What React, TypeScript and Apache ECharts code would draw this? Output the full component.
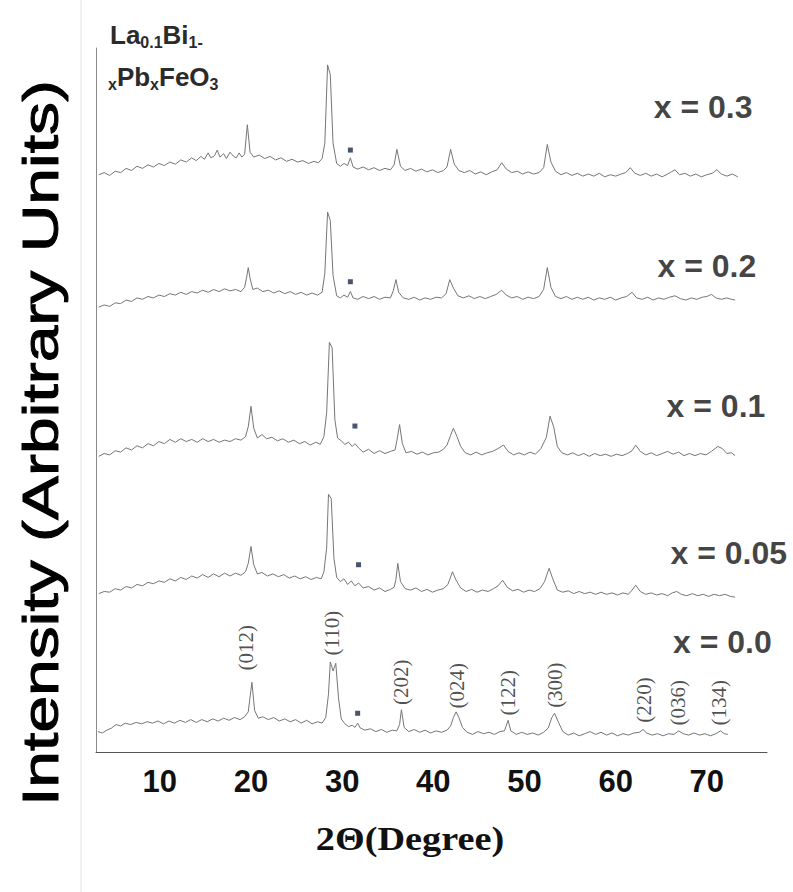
import React, { useEffect, useRef } from "react";
import * as echarts from "echarts";

// Sample compositions (top to bottom)
const sampleNames = ["x = 0.3", "x = 0.2", "x = 0.1", "x = 0.05", "x = 0.0"];
// Vertical offsets of each pattern (arbitrary units)
const offsets = [82.0, 64.5, 42.2, 23.0, 2.7];

// Patterns: [2θ (deg), intensity above own baseline (a.u.)]
const t03 = [
  [3.3,0.0],[3.9,0.3],[4.5,-0.1],[5.1,0.5],[5.7,0.3],[6.3,0.9],[6.9,0.6],[7.5,1.2],[8.1,0.9],[8.7,1.4],[9.3,1.1],[9.9,1.6],[10.5,1.3],[11.1,1.8],[11.7,1.5],[12.3,2.1],[12.9,1.8],[13.5,2.4],[14.0,2.0],[14.5,2.6],[14.9,2.2],[15.3,3.1],[15.6,2.4],[16.0,2.7],[16.3,3.5],[16.6,2.5],[17.0,3.0],[17.3,2.3],[17.7,3.2],[18.1,2.6],[18.4,2.4],[18.7,3.1],[19.0,2.5],[19.3,2.9],[19.6,7.1],[19.9,3.2],[20.3,2.5],[20.9,2.8],[21.5,2.3],[22.1,2.6],[22.7,2.1],[23.3,2.4],[23.9,1.9],[24.5,2.2],[25.1,1.8],[25.7,2.0],[26.3,1.6],[26.9,1.9],[27.4,1.7],[27.8,2.3],[28.1,4.5],[28.4,15.6],[28.7,14.2],[29.0,4.5],[29.4,1.6],[29.8,1.2],[30.2,1.6],[30.6,1.3],[30.9,2.4],[31.2,1.1],[31.7,0.8],[32.3,1.1],[32.9,0.7],[33.5,1.0],[34.1,0.6],[34.7,0.9],[35.3,0.7],[35.7,1.4],[36.0,3.6],[36.4,1.2],[36.9,0.6],[37.5,0.9],[38.1,0.5],[38.7,0.8],[39.3,0.4],[39.9,0.7],[40.5,0.3],[41.1,0.6],[41.5,1.1],[41.9,3.6],[42.3,1.5],[42.8,0.6],[43.4,0.3],[44.0,0.6],[44.6,0.1],[45.2,0.4],[45.8,0.0],[46.4,0.4],[47.0,0.7],[47.5,1.7],[48.0,0.8],[48.6,0.3],[49.2,0.5],[49.8,0.1],[50.4,0.4],[51.0,0.1],[51.6,0.3],[52.1,1.0],[52.5,4.3],[52.9,1.8],[53.4,0.5],[54.0,0.0],[54.6,0.3],[55.2,-0.1],[55.8,0.2],[56.4,-0.2],[57.0,0.1],[57.6,-0.2],[58.2,0.2],[58.8,-0.3],[59.4,0.0],[60.0,-0.2],[60.6,0.1],[61.1,0.3],[61.6,1.0],[62.1,0.2],[62.7,-0.1],[63.3,0.2],[63.9,-0.2],[64.5,0.1],[65.1,-0.3],[65.7,0.1],[66.1,0.4],[66.5,0.7],[67.0,0.0],[67.6,0.2],[68.2,-0.2],[68.8,0.1],[69.4,-0.3],[70.0,0.0],[70.6,0.2],[71.1,0.7],[71.6,0.1],[72.2,-0.2],[72.8,0.1],[73.4,-0.3]
];
const t02 = [
  [3.3,-1.3],[3.9,-1.0],[4.5,-1.2],[5.1,-0.7],[5.7,-0.8],[6.3,-0.3],[6.9,-0.5],[7.5,0.0],[8.1,-0.2],[8.7,0.2],[9.3,0.0],[9.9,0.4],[10.5,0.2],[11.1,0.6],[11.7,0.4],[12.3,0.8],[12.9,0.5],[13.5,0.9],[14.1,0.7],[14.7,1.1],[15.3,0.8],[15.9,1.2],[16.5,0.9],[17.1,1.3],[17.7,1.0],[18.3,1.2],[18.9,0.9],[19.3,1.5],[19.5,2.8],[19.7,4.3],[19.9,2.8],[20.2,1.2],[20.7,1.4],[21.3,0.9],[21.9,1.1],[22.5,0.7],[23.1,1.0],[23.7,0.6],[24.3,0.9],[24.9,0.5],[25.5,0.8],[26.1,0.4],[26.7,0.7],[27.3,0.4],[27.8,0.8],[28.1,3.5],[28.4,12.2],[28.7,11.0],[29.0,3.2],[29.4,0.3],[29.8,0.0],[30.2,0.4],[30.6,0.1],[30.9,0.9],[31.2,0.0],[31.7,-0.2],[32.3,0.2],[32.9,-0.1],[33.5,0.2],[34.1,-0.2],[34.7,0.1],[35.3,0.0],[35.6,1.0],[35.9,2.6],[36.2,0.8],[36.7,0.0],[37.3,-0.2],[37.9,0.1],[38.5,-0.3],[39.1,0.0],[39.7,-0.2],[40.3,0.1],[40.9,0.0],[41.4,0.6],[41.8,2.6],[42.2,1.4],[42.7,0.3],[43.3,0.0],[43.9,0.3],[44.5,-0.1],[45.1,0.2],[45.7,-0.1],[46.3,0.2],[46.9,0.5],[47.5,1.1],[48.0,0.4],[48.6,0.0],[49.2,0.2],[49.8,-0.2],[50.4,0.1],[51.0,-0.1],[51.6,0.2],[52.1,1.2],[52.5,4.3],[52.9,1.5],[53.4,0.2],[54.0,-0.1],[54.6,0.2],[55.2,-0.2],[55.8,0.1],[56.4,-0.2],[57.0,0.1],[57.6,-0.3],[58.2,0.0],[58.8,-0.2],[59.4,0.1],[60.0,-0.3],[60.6,0.0],[61.2,0.2],[61.8,0.8],[62.3,0.0],[62.9,-0.2],[63.5,0.1],[64.1,-0.3],[64.7,0.0],[65.3,-0.2],[65.9,0.1],[66.5,0.3],[67.1,-0.1],[67.7,-0.3],[68.3,0.0],[68.9,-0.2],[69.5,0.1],[70.0,0.2],[70.5,0.5],[71.0,0.0],[71.6,-0.2],[72.2,0.0],[72.7,-0.2],[73.1,-0.3]
];
const t01 = [
  [3.3,-0.2],[3.9,0.2],[4.5,0.0],[5.1,0.6],[5.7,0.4],[6.3,1.0],[6.9,0.7],[7.5,1.3],[8.1,1.0],[8.7,1.6],[9.3,1.3],[9.9,1.9],[10.5,1.6],[11.1,2.2],[11.7,1.8],[12.3,2.3],[12.9,1.9],[13.5,2.2],[14.1,1.8],[14.7,2.3],[15.3,1.9],[15.9,2.2],[16.5,1.8],[17.1,2.1],[17.7,1.9],[18.3,2.3],[18.9,2.1],[19.4,2.6],[19.7,4.0],[20.0,6.9],[20.3,3.8],[20.7,2.4],[21.2,2.9],[21.7,2.3],[22.3,2.5],[22.9,2.0],[23.5,2.3],[24.1,1.8],[24.7,2.1],[25.3,1.6],[25.9,1.9],[26.5,1.4],[27.1,1.8],[27.6,1.5],[28.0,2.6],[28.3,6.0],[28.6,16.0],[28.9,15.2],[29.2,5.0],[29.5,2.4],[29.9,2.0],[30.3,1.5],[30.7,1.8],[31.1,1.2],[31.4,1.6],[31.8,1.0],[32.3,0.4],[32.9,0.8],[33.5,0.2],[34.1,0.6],[34.7,0.2],[35.3,0.5],[35.8,0.7],[36.0,2.0],[36.3,4.3],[36.6,1.6],[37.0,0.3],[37.6,0.5],[38.2,0.1],[38.8,0.4],[39.4,0.0],[40.0,0.3],[40.6,0.4],[41.1,0.8],[41.5,1.4],[41.9,2.8],[42.2,3.8],[42.6,2.6],[43.0,1.2],[43.5,0.3],[44.1,0.0],[44.7,0.4],[45.3,0.0],[45.9,0.3],[46.5,0.5],[47.1,0.9],[47.7,1.4],[48.2,0.5],[48.8,0.0],[49.4,0.3],[50.0,0.0],[50.6,0.4],[51.2,0.1],[51.8,0.9],[52.4,2.5],[52.8,5.5],[53.2,4.0],[53.6,1.2],[54.1,0.3],[54.7,0.0],[55.3,0.3],[55.9,-0.1],[56.5,0.2],[57.1,-0.2],[57.7,0.2],[58.3,-0.1],[58.9,0.1],[59.5,-0.2],[60.1,0.1],[60.7,-0.1],[61.3,0.2],[61.8,0.6],[62.2,1.4],[62.7,0.5],[63.3,0.0],[63.9,0.3],[64.5,-0.1],[65.1,0.2],[65.7,0.5],[66.3,0.1],[66.9,0.4],[67.5,-0.1],[68.1,0.2],[68.7,-0.1],[69.3,0.2],[69.9,0.0],[70.5,0.5],[71.2,1.2],[71.7,0.9],[72.2,0.2],[72.7,0.3],[73.1,-0.1]
];
const t005 = [
  [3.3,-0.5],[3.9,-0.2],[4.5,-0.3],[5.1,0.2],[5.7,0.0],[6.3,0.5],[6.9,0.3],[7.5,0.8],[8.1,0.6],[8.7,1.1],[9.3,0.9],[9.9,1.3],[10.5,1.1],[11.1,1.6],[11.7,1.3],[12.3,1.8],[12.9,1.5],[13.5,2.0],[14.1,1.7],[14.7,2.2],[15.3,1.8],[15.9,2.3],[16.5,1.9],[17.1,2.4],[17.7,2.0],[18.3,2.4],[18.9,2.1],[19.4,2.6],[19.7,3.8],[20.0,6.2],[20.3,3.6],[20.7,2.3],[21.2,2.5],[21.8,2.0],[22.4,2.3],[23.0,1.9],[23.6,2.2],[24.2,1.7],[24.8,2.0],[25.4,1.6],[26.0,1.9],[26.6,1.5],[27.2,1.8],[27.7,1.6],[28.0,2.6],[28.3,6.0],[28.5,13.6],[28.8,13.0],[29.1,4.5],[29.4,1.8],[29.8,1.2],[30.2,1.6],[30.6,0.8],[31.0,1.3],[31.4,0.6],[31.8,1.0],[32.3,0.3],[32.9,0.5],[33.5,0.0],[34.1,0.3],[34.7,-0.2],[35.3,0.1],[35.7,0.4],[35.9,1.5],[36.1,3.8],[36.4,1.2],[36.9,0.2],[37.5,0.0],[38.1,0.3],[38.7,-0.2],[39.3,0.1],[39.9,-0.3],[40.5,0.0],[41.1,0.2],[41.6,0.8],[42.1,2.6],[42.5,1.4],[43.0,0.3],[43.6,-0.2],[44.2,0.1],[44.8,-0.3],[45.4,0.0],[46.0,-0.2],[46.6,0.2],[47.1,0.6],[47.6,1.4],[48.1,0.4],[48.7,-0.1],[49.3,0.1],[49.9,-0.3],[50.5,0.0],[51.1,-0.2],[51.7,0.2],[52.2,1.2],[52.7,3.1],[53.1,1.6],[53.6,0.0],[54.2,-0.3],[54.8,-0.1],[55.4,-0.5],[56.0,-0.2],[56.6,-0.5],[57.2,-0.3],[57.8,-0.6],[58.4,-0.3],[59.0,-0.6],[59.6,-0.4],[60.2,-0.7],[60.8,-0.4],[61.4,-0.6],[61.8,0.0],[62.2,0.7],[62.7,-0.2],[63.3,-0.6],[63.9,-0.4],[64.5,-0.7],[65.1,-0.5],[65.7,-0.8],[66.2,-0.4],[66.7,-0.2],[67.2,-0.6],[67.8,-0.8],[68.4,-0.5],[69.0,-0.8],[69.6,-0.6],[70.2,-0.9],[70.8,-0.6],[71.4,-0.8],[72.0,-0.6],[72.6,-0.9],[73.1,-1.0]
];
const t00 = [
  [3.2,0.2],[3.7,0.0],[4.2,0.4],[4.7,0.7],[5.2,1.2],[5.7,1.0],[6.2,1.4],[6.8,1.2],[7.4,1.5],[8.0,1.3],[8.6,1.6],[9.2,1.4],[9.8,1.7],[10.4,1.3],[11.0,1.7],[11.6,1.4],[12.2,1.8],[12.8,1.5],[13.4,1.9],[14.0,1.5],[14.6,1.9],[15.2,1.6],[15.8,2.0],[16.4,1.7],[17.0,2.1],[17.6,1.8],[18.2,2.2],[18.8,1.9],[19.3,2.3],[19.7,3.0],[20.1,7.2],[20.4,3.2],[20.8,2.1],[21.3,2.3],[21.9,1.9],[22.5,2.2],[23.1,1.7],[23.7,2.0],[24.3,1.6],[24.9,1.9],[25.5,1.4],[26.1,1.8],[26.7,1.3],[27.3,1.6],[27.8,1.4],[28.2,2.2],[28.5,5.5],[28.7,10.1],[29.0,8.8],[29.3,9.9],[29.6,5.0],[29.9,2.0],[30.3,1.3],[30.7,0.9],[31.1,1.1],[31.4,0.8],[31.7,1.4],[32.0,0.7],[32.5,0.4],[33.1,0.6],[33.7,0.2],[34.3,0.5],[34.9,0.1],[35.5,0.4],[36.0,0.3],[36.3,1.2],[36.5,3.3],[36.8,0.8],[37.3,0.2],[37.9,0.5],[38.5,0.1],[39.1,0.4],[39.7,0.0],[40.3,0.3],[40.9,0.1],[41.5,0.4],[41.9,1.0],[42.2,2.2],[42.5,3.0],[42.8,2.2],[43.2,0.8],[43.7,0.1],[44.3,-0.2],[44.9,0.2],[45.5,-0.1],[46.1,0.1],[46.7,-0.2],[47.3,0.2],[47.8,0.3],[48.2,1.8],[48.5,0.3],[49.1,-0.2],[49.7,0.1],[50.3,-0.2],[50.9,0.0],[51.5,-0.3],[52.1,0.1],[52.6,0.7],[53.0,2.2],[53.3,2.8],[53.7,1.6],[54.2,0.2],[54.8,-0.3],[55.4,0.0],[56.0,-0.4],[56.6,-0.1],[57.2,0.2],[57.8,-0.2],[58.4,0.1],[59.0,-0.3],[59.6,0.0],[60.2,-0.4],[60.8,-0.1],[61.4,-0.3],[62.0,0.0],[62.6,0.1],[63.0,0.5],[63.4,0.0],[64.0,-0.3],[64.6,-0.1],[65.2,-0.4],[65.8,-0.1],[66.4,-0.2],[66.9,0.3],[67.4,-0.1],[68.0,-0.3],[68.6,0.0],[69.2,-0.3],[69.8,-0.1],[70.4,-0.4],[71.0,-0.1],[71.5,0.3],[71.9,-0.1],[72.3,-0.2]
];
const traces = [t03, t02, t01, t005, t00];

// Sample label anchor points [2θ, a.u.]
const sampleLabelPos = [[69.6, 91.6], [70.0, 69.0], [71.0, 49.1], [72.4, 28.3], [71.7, 15.6]];
// Impurity markers (*) [2θ, a.u.]
const impurityMarks = [[30.9, 85.5], [30.9, 66.8], [31.4, 46.3], [31.8, 26.6], [31.7, 5.5]];
// Miller indices of the x = 0.0 pattern
const hklLabels = ["(012)", "(110)", "(202)", "(024)", "(122)", "(300)", "(220)", "(036)", "(134)"];
const hklPos = [[19.5, 14.8], [28.9, 16.9], [36.5, 9.9], [42.6, 9.4], [48.2, 8.4], [53.3, 9.5], [63.1, 7.4], [66.8, 7.0], [71.3, 7.0]];
// x-axis tick labels
const xTicks = [10, 20, 30, 40, 50, 60, 70];

const SANS = '"Liberation Sans", Arial, sans-serif';
const SERIF = '"Liberation Serif", "Times New Roman", serif';

export default function App() {
  const ref = useRef<HTMLDivElement>(null);

  useEffect(() => {
    if (!ref.current) return;
    const chart = echarts.init(ref.current, null, { renderer: "svg" });

    const lineSeries = traces.map((tr, i) => ({
      type: "line",
      name: sampleNames[i],
      data: tr.map(([x, y]) => [x, y + offsets[i]]),
      showSymbol: false,
      symbol: "none",
      silent: true,
      lineStyle: { color: "#767676", width: 1 },
      z: 2,
    }));

    chart.setOption({
      animation: false,
      backgroundColor: "#ffffff",
      grid: { left: 96, right: 26, top: 48, bottom: 140 },
      xAxis: {
        type: "value",
        min: 3,
        max: 76.6,
        axisLine: { show: true, lineStyle: { color: "#555", width: 1 } },
        axisTick: { show: false },
        splitLine: { show: false },
        axisLabel: {
          customValues: xTicks,
          fontSize: 31,
          fontWeight: "bold",
          fontFamily: SANS,
          color: "#111",
          margin: 14,
        },
      },
      yAxis: {
        type: "value",
        min: 0,
        max: 100,
        axisLine: { show: true, lineStyle: { color: "#8a8a8a", width: 1 } },
        axisTick: { show: false },
        axisLabel: { show: false },
        splitLine: { show: false },
      },
      series: [
        ...lineSeries,
        {
          type: "scatter",
          name: "impurity",
          data: impurityMarks,
          symbol: "rect",
          symbolSize: 5,
          itemStyle: { color: "#1b2a48" },
          silent: true,
          z: 3,
        },
        {
          type: "scatter",
          name: "hkl",
          data: hklPos,
          symbolSize: 1,
          itemStyle: { color: "rgba(0,0,0,0)" },
          silent: true,
          label: {
            show: true,
            position: "inside",
            rotate: 90,
            formatter: (p: any) => hklLabels[p.dataIndex],
            fontFamily: SERIF,
            fontSize: 21,
            color: "#222",
          },
          z: 4,
        },
        {
          type: "scatter",
          name: "samples",
          data: sampleLabelPos,
          symbolSize: 1,
          itemStyle: { color: "rgba(0,0,0,0)" },
          silent: true,
          label: {
            show: true,
            position: "inside",
            formatter: (p: any) => sampleNames[p.dataIndex],
            fontFamily: SANS,
            fontWeight: "bold",
            fontSize: 32,
            color: "#111",
          },
          z: 4,
        },
      ],
      graphic: [
        {
          type: "line",
          shape: { x1: 81, y1: 0, x2: 81, y2: 892 },
          style: { stroke: "#e4e4e4", lineWidth: 1 },
          silent: true,
        },
        {
          type: "text",
          x: 40,
          y: 443,
          rotation: Math.PI / 2,
          scaleX: 1.32,
          style: {
            text: "Intensity (Arbitrary Units)",
            fontFamily: SANS,
            fontSize: 50,
            fill: "#000",
            stroke: "#000",
            lineWidth: 1,
            align: "center",
            verticalAlign: "middle",
          },
        },
        {
          type: "text",
          x: 410,
          y: 839,
          scaleX: 1.16,
          style: {
            text: "2Θ(Degree)",
            fontFamily: SERIF,
            fontWeight: "bold",
            fontSize: 33,
            fill: "#111",
            align: "center",
            verticalAlign: "middle",
          },
        },
        {
          type: "text",
          x: 110,
          y: 20,
          style: {
            text: "{n|La}{s|0.1}{n|Bi}{s|1-}",
            rich: {
              n: { fontFamily: SANS, fontWeight: "bold", fontSize: 26, lineHeight: 30, fill: "#2b2b2b" },
              s: { fontFamily: SANS, fontWeight: "bold", fontSize: 16, lineHeight: 30, verticalAlign: "bottom", fill: "#2b2b2b" },
            },
          },
        },
        {
          type: "text",
          x: 108,
          y: 62,
          style: {
            text: "{s|x}{n|Pb}{s|x}{n|FeO}{s|3}",
            rich: {
              n: { fontFamily: SANS, fontWeight: "bold", fontSize: 26, lineHeight: 30, fill: "#2b2b2b" },
              s: { fontFamily: SANS, fontWeight: "bold", fontSize: 16, lineHeight: 30, verticalAlign: "bottom", fill: "#2b2b2b" },
            },
          },
        },
      ],
    });

    return () => chart.dispose();
  }, []);

  return (
    <div
      ref={ref}
      style={{ position: "fixed", left: 0, top: 0, width: 793, height: 892, background: "#fff" }}
    />
  );
}
